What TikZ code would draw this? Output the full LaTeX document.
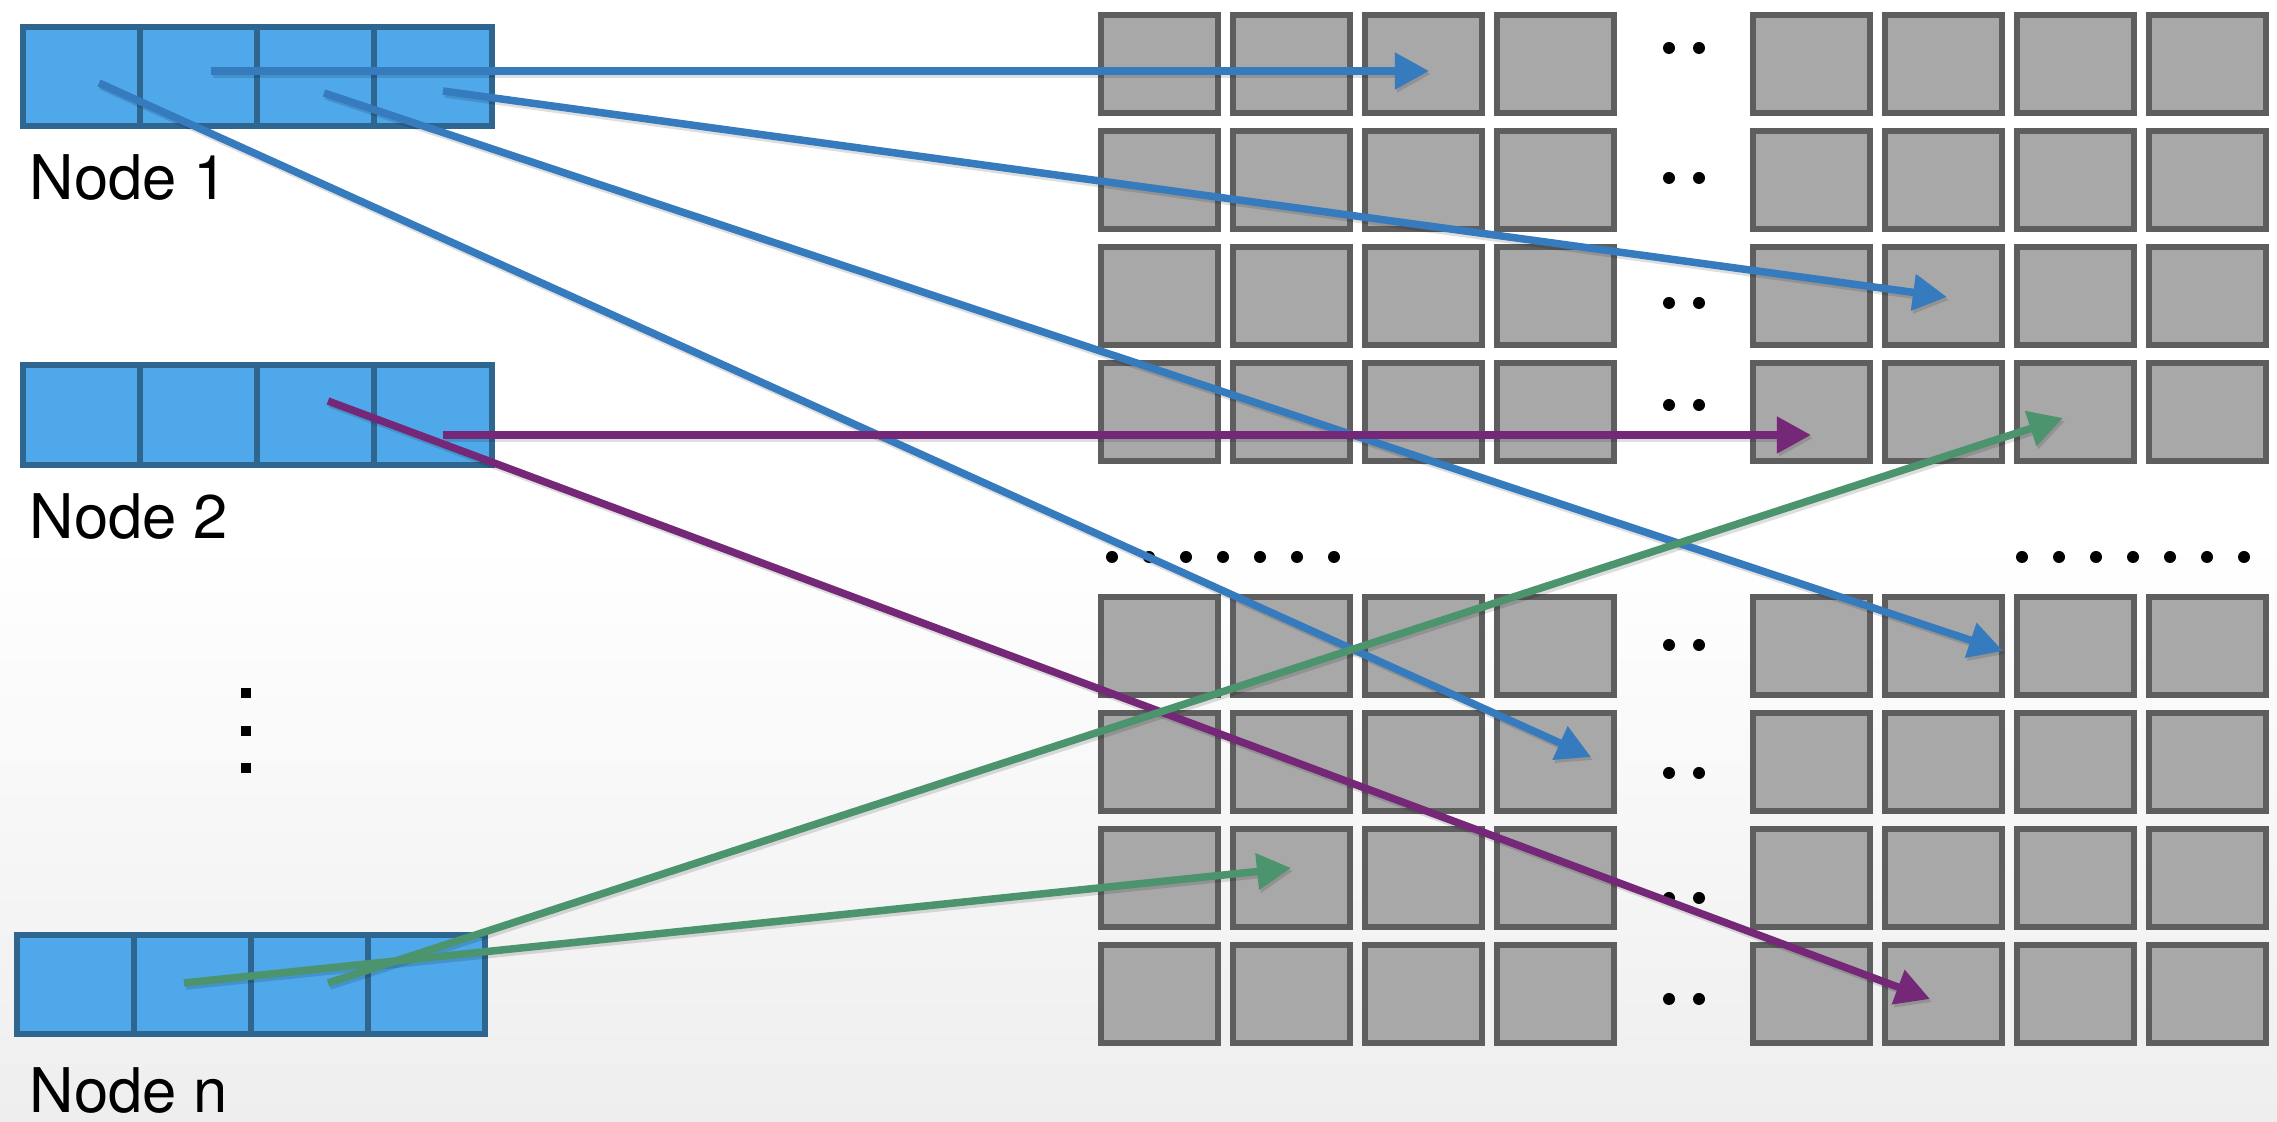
\documentclass[tikz,border=0pt]{standalone}
\usepackage{fontspec}
\setmainfont{TeX Gyre Heros}
\usetikzlibrary{arrows.meta}
\definecolor{cellfill}{HTML}{A8A8A8}
\definecolor{celledge}{HTML}{5E5E5E}
\definecolor{nodefill}{HTML}{4EA8EA}
\definecolor{nodeedge}{HTML}{2F6690}
\definecolor{arrblue}{HTML}{357BBD}
\definecolor{arrpurple}{HTML}{762878}
\definecolor{arrgreen}{HTML}{4B946E}
\definecolor{bggray}{HTML}{EEEEEE}
\begin{document}
\begin{tikzpicture}[x=0.01cm,y=-0.01cm,
  gcell/.style={draw=celledge, fill=cellfill, line width=0.06cm, minimum width=1.17cm, minimum height=0.98cm, inner sep=0pt, outer sep=0pt},
  ncell/.style={draw=nodeedge, fill=nodefill, line width=0.06cm, minimum width=1.17cm, minimum height=0.99cm, inner sep=0pt, outer sep=0pt},
  lbl/.style={anchor=base west, inner sep=0pt, font=\fontsize{17.5}{20}\selectfont},
  conn/.style={line width=0.075cm, -{Triangle[length=0.34cm,width=0.35cm]}},
  bconn/.style={conn, draw=arrblue},
  pconn/.style={conn, draw=arrpurple},
  gconn/.style={conn, draw=arrgreen},
  shadowline/.style={conn, draw=black, opacity=0.13, transform canvas={shift={(0.02cm,-0.03cm)}}},
  dotmark/.style={fill=black}
]
\useasboundingbox (0,0) rectangle (2277,1122);
\fill[white] (0,0) rectangle (2277,1122);
\shade[top color=white, bottom color=bggray] (0,540) rectangle (2277,1122);

% memory grids
\foreach \g/\gx/\gy in {TL/1098/12, TR/1750/12, BL/1098/594, BR/1750/594} {
  \foreach \r in {1,...,4} {
    \foreach \c in {1,...,4} {
      \node[gcell] (\g-\r-\c) at ({\gx+61.5+132*(\c-1)}, {\gy+52+116*(\r-1)}) {};
    }
  }
}

% node buffers
\foreach \k/\xx in {1/82, 2/199, 3/316, 4/433}
  \node[ncell] (nA\k) at (\xx, 76.5) {};
\foreach \k/\xx in {1/82, 2/199, 3/316, 4/433}
  \node[ncell] (nB\k) at (\xx, 415) {};
\foreach \k/\xx in {1/75.1, 2/192.4, 3/309.6, 4/426.9}
  \node[ncell] (nC\k) at (\xx, 984.5) {};

% labels
\node[lbl] (lab1) at (29,200) {Node 1};
\node[lbl] (lab2) at (29,539) {Node 2};
\node[lbl] (labn) at (29,1113) {Node n};

% vertical dots
\foreach \yy in {693,731,768}
  \fill[dotmark] (241,{\yy-5}) rectangle (251,{\yy+5});

% pairs of dots between grids
\foreach \yy in {48,178,303,405,645,773,898,999} {
  \fill[dotmark] (1669,\yy) circle[radius=0.06cm];
  \fill[dotmark] (1699,\yy) circle[radius=0.06cm];
}
% horizontal ellipses
\foreach \i in {0,...,6} {
  \fill[dotmark] ({1112+37*\i},557) circle[radius=0.06cm];
  \fill[dotmark] ({2022+37*\i},557) circle[radius=0.06cm];
}

% connector end points
\coordinate (s1) at (211,71);  \coordinate (t1) at (1429,71);
\coordinate (s2) at (443,91);  \coordinate (t2) at (1947,297);
\coordinate (s3) at (324,93);  \coordinate (t3) at (2003,651);
\coordinate (s4) at (99,83);   \coordinate (t4) at (1591,757);
\coordinate (s5) at (443,435); \coordinate (t5) at (1811,435);
\coordinate (s6) at (328,401); \coordinate (t6) at (1930,999);
\coordinate (s7) at (184,983); \coordinate (t7) at (1291,868);
\coordinate (s8) at (328,983); \coordinate (t8) at (2063,418);

% soft shadows
\foreach \s/\t in {s1/t1, s2/t2, s3/t3, s4/t4, s5/t5, s6/t6, s7/t7, s8/t8}
  \draw[shadowline] (\s) -- (\t);

\draw[bconn] (s1) -- (t1);
\draw[bconn] (s2) -- (t2);
\draw[bconn] (s3) -- (t3);
\draw[bconn] (s4) -- (t4);
\draw[pconn] (s5) -- (t5);
\draw[pconn] (s6) -- (t6);
\draw[gconn] (s7) -- (t7);
\draw[gconn] (s8) -- (t8);
\end{tikzpicture}
\end{document}
